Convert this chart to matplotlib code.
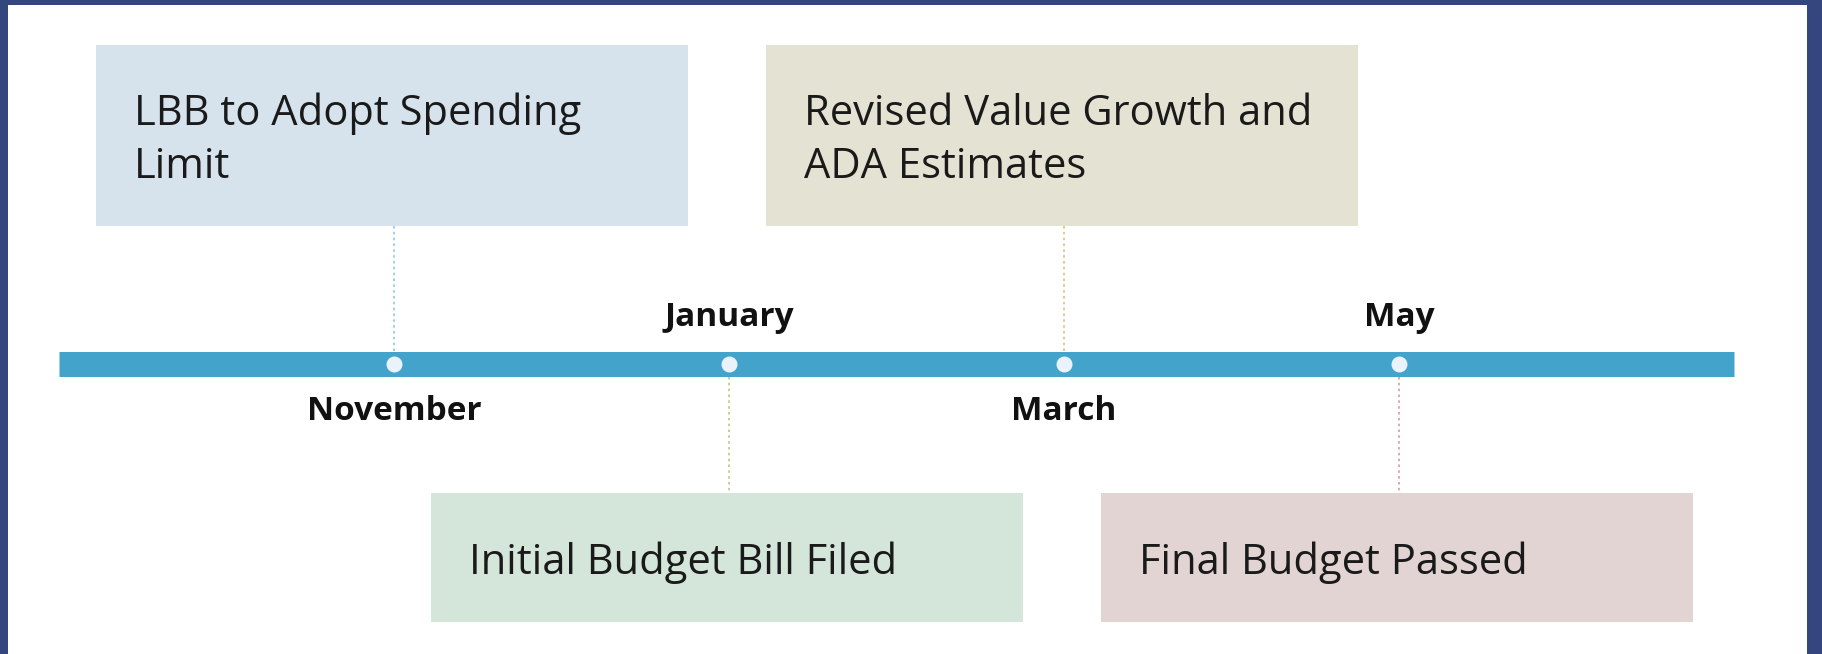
import matplotlib
matplotlib.use('Agg')
from matplotlib import pyplot as plt
from matplotlib.patches import Rectangle

# timeline data
months = ['November', 'January', 'March', 'May']
month_side = ['below', 'above', 'below', 'above']   # where the month name sits
events = ['LBB to Adopt Spending\nLimit',
          'Initial Budget Bill Filed',
          'Revised Value Growth and\nADA Estimates',
          'Final Budget Passed']
event_side = ['above', 'below', 'above', 'below']
box_colors = ['#d6e3ec', '#d4e6d9', '#e4e2d2', '#e2d4d3']
line_colors = ['#8ec8e0', '#b9c986', '#dcc07c', '#d89a9a']

# pixels per month step, used to size boxes in data units
step = 335.0

fig = plt.figure(figsize=(18.22, 6.54), dpi=100)
fig.patch.set_facecolor('white')
ax = fig.add_axes([0, 0, 1, 1])
ax.set_xlim(-394 / step, (1822 - 394) / step)
ax.set_ylim(-290, 364)
ax.axis('off')

# frame edges from the slide screenshot
for rect in [(0, 0, 8 / 1822, 1), (0, 1 - 5 / 654, 1, 5 / 654),
             (1 - 15 / 1822, 0, 15 / 1822, 1)]:
    fig.patches.append(Rectangle(rect[:2], rect[2], rect[3], transform=fig.transFigure,
                                 facecolor='#34467e', edgecolor='none', zorder=10))

xs = list(range(len(months)))

# main bar
ax.plot([-1, 4], [0, 0], color='#44a3ca', linewidth=18, solid_capstyle='butt', zorder=2)
ax.plot(xs, [0] * len(xs), 'o', markersize=11.5, color='#eaf2fb',
        markeredgewidth=0, zorder=3)

# month labels
for x, m, side in zip(xs, months, month_side):
    y = 46 if side == 'above' else -47
    ax.text(x, y, m, ha='center', va='center', fontsize=24, fontweight='bold',
            family='Open Sans', color='#111111')

# event boxes and connectors
w = 592 / step
for x, ev, side, bc, lc in zip(xs, events, event_side, box_colors, line_colors):
    if side == 'above':
        y0, h = 138, 181
        ax.plot([x, x], [13, y0], linestyle=(0, (1.5, 2)), color=lc, linewidth=1.2, zorder=1)
    else:
        y0, h = -258, 129
        ax.plot([x, x], [-13, y0 + h], linestyle=(0, (1.5, 2)), color=lc, linewidth=1.2, zorder=1)
    left = x - w / 2 - 2 / step
    ax.add_patch(Rectangle((left, y0), w, h, facecolor=bc, edgecolor='none', zorder=1))
    ax.text(left + 38 / step, y0 + h / 2 - 5, ev, ha='left', va='center', fontsize=30,
            family='Open Sans', color='#1a1a1a', linespacing=1.33, zorder=4)

plt.savefig('out.png', dpi=100)
